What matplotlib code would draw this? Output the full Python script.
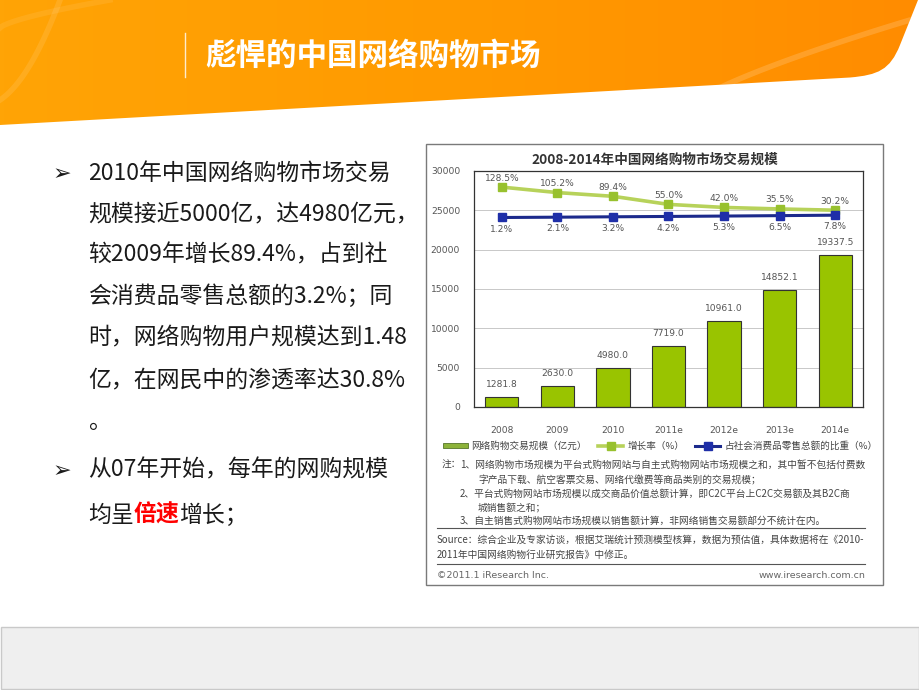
import matplotlib
matplotlib.use("Agg")
import matplotlib.pyplot as plt
import numpy as np
from matplotlib.path import Path
from matplotlib.patches import PathPatch, Rectangle
from matplotlib.colors import LinearSegmentedColormap

# ---------------- data ----------------
years = ['2008', '2009', '2010', '2011e', '2012e', '2013e', '2014e']
scale = [1281.8, 2630.0, 4980.0, 7719.0, 10961.0, 14852.1, 19337.5]
growth = [128.5, 105.2, 89.4, 55.0, 42.0, 35.5, 30.2]
share = [1.2, 2.1, 3.2, 4.2, 5.3, 6.5, 7.8]
yticks = [0, 5000, 10000, 15000, 20000, 25000, 30000]

slide_title = "彪悍的中国网络购物市场"
chart_title = "2008-2014年中国网络购物市场交易规模"
legend_labels = ["网络购物交易规模（亿元）", "增长率（%）", "占社会消费品零售总额的比重（%）"]
body_lines = [
    "2010年中国网络购物市场交易",
    "规模接近5000亿，达4980亿元，",
    "较2009年增长89.4%，占到社",
    "会消费品零售总额的3.2%；同",
    "时，网络购物用户规模达到1.48",
    "亿，在网民中的渗透率达30.8%",
    "。",
    "从07年开始，每年的网购规模",
]
last_line = ["均呈", "倍速", "增长；"]
notes = [
    (442, 465, "注："),
    (460, 465, "1、网络购物市场规模为平台式购物网站与自主式购物网站市场规模之和，其中暂不包括付费数"),
    (478, 480, "字产品下载、航空客票交易、网络代缴费等商品类别的交易规模；"),
    (460, 494, "2、平台式购物网站市场规模以成交商品价值总额计算，即C2C平台上C2C交易额及其B2C商"),
    (478, 508, "城销售额之和；"),
    (460, 521, "3、自主销售式购物网站市场规模以销售额计算，非网络销售交易额部分不统计在内。"),
]
source_lines = [
    "Source：综合企业及专家访谈，根据艾瑞统计预测模型核算，数据为预估值，具体数据将在《2010-",
    "2011年中国网络购物行业研究报告》中修正。",
]

CJK = ['Noto Sans CJK SC', 'DejaVu Sans']
W, H = 920, 690

fig = plt.figure(figsize=(9.2, 6.9), dpi=100)
bg = fig.add_axes([0, 0, 1, 1], zorder=0)
bg.axis('off')

# ---------- header gradient shape ----------
verts = [(0, 0), (918, 0), (900, 45), (890, 70), (878, 75), (850, 77.5), (0, 125), (0, 0)]
codes = [Path.MOVETO, Path.LINETO, Path.LINETO, Path.CURVE4, Path.CURVE4, Path.CURVE4,
         Path.LINETO, Path.CLOSEPOLY]
hpatch = PathPatch(Path(verts, codes), facecolor='none', edgecolor='none')
bg.add_patch(hpatch)
grad = np.linspace(0, 1, 256).reshape(1, -1)
cmap = LinearSegmentedColormap.from_list('o', ['#FFA406', '#FF9A00', '#FF8C00'])
im = bg.imshow(grad, extent=(0, 920, 130, 0), cmap=cmap, aspect='auto', zorder=1)
im.set_clip_path(hpatch)

# decorative faint strokes
t = np.linspace(0, 1, 60)
x1 = 672 + 60 * t ** 0.5 + 178 * t
y1 = 118 - 70 * t ** 0.5 - 28 * t
ln1, = bg.plot(x1, y1, color='white', alpha=0.16, lw=4, zorder=2, solid_capstyle='round')
x3 = 0 + 60 * t
y3 = 100 - 40 * t - 60 * t ** 2
ln3, = bg.plot(x3, y3, color='white', alpha=0.10, lw=4, zorder=2)
x4 = 0 + 110 * t
y4 = 28 - 28 * t ** 0.7
ln4, = bg.plot(x4, y4, color='white', alpha=0.08, lw=4, zorder=2)
for ln in (ln1, ln3, ln4):
    ln.set_clip_path(hpatch)

bg.plot([185, 185], [33, 77], color='white', alpha=0.8, lw=1, zorder=3)
bg.text(205, 56, slide_title, family=CJK, fontsize=22, fontweight='bold',
        color='white', va='center', ha='left', zorder=3)

# ---------- footer ----------
bg.add_patch(Rectangle((1, 627), 918, 62, facecolor='#EFEFEF', edgecolor='#C9C9C9', lw=1, zorder=1))

# ---------- body text ----------
ys = [173, 214, 255, 296, 338, 380, 422, 470]
for s, y in zip(body_lines, ys):
    bg.text(88, y, s, family=CJK, fontsize=16.5, color='#1a1a1a', va='center', ha='left', zorder=3)
for y in (174, 471):
    bg.text(53, y, "➢", family=['DejaVu Sans'], fontsize=16, fontweight='bold',
            color='#1a1a1a', va='center', ha='left', zorder=3)

fig.canvas.draw()
renderer = fig.canvas.get_renderer()
x = 88.0
for i, s in enumerate(last_line):
    kw = dict(family=CJK, fontsize=16.5, va='center', ha='left', zorder=3)
    if i == 1:
        kw.update(color='#FF0000', fontweight='bold')
    else:
        kw.update(color='#1a1a1a')
    tt = bg.text(x, 515, s, **kw)
    bb = tt.get_window_extent(renderer=renderer)
    x += bb.width

# ---------- chart box ----------
bg.add_patch(Rectangle((426, 144), 457, 441, facecolor='white', edgecolor='#7a7a7a', lw=1, zorder=1))
bg.text(655, 160, chart_title, family=CJK, fontsize=9.8, fontweight='bold', color='#333333',
        ha='center', va='center', zorder=3)

L, R, T, B = 474, 863, 171, 407
ax = fig.add_axes([L / W, 1 - B / H, (R - L) / W, (B - T) / H], zorder=2)
ax.set_facecolor('none')
xpos = np.arange(len(years))
bars = ax.bar(xpos, scale, width=0.6, color='#99C400', edgecolor='#333333', lw=0.8, zorder=2)
ax.set_xlim(-0.5, len(years) - 0.5)
ax.set_ylim(0, 30000)
ax.set_yticks(yticks)
ax.set_yticklabels([str(v) for v in yticks], fontsize=6.6, color='#555555', family='DejaVu Sans')
ax.set_xticks(xpos)
ax.set_xticklabels(years, fontsize=6.6, color='#555555', family='DejaVu Sans')
ax.tick_params(axis='both', length=0)
ax.tick_params(axis='y', pad=10)
ax.tick_params(axis='x', pad=14)
ax.yaxis.grid(True, color='#c8c8c8', lw=0.7)
ax.set_axisbelow(True)
for sp in ax.spines.values():
    sp.set_color('#333333')
    sp.set_linewidth(0.9)
for xi, v in zip(xpos, scale):
    ax.annotate(f"{v:.1f}", (xi, v), xytext=(0, 9), textcoords='offset points',
                ha='center', va='center', fontsize=6.6, color='#555555', family='DejaVu Sans')

ax2 = ax.twinx()
ax2.set_ylim(-807, 197)
ax2.axis('off')
gl, = ax2.plot(xpos, growth, color='#B7D25A', lw=2.6, marker='s', markersize=6,
               markerfacecolor='#98C12E', markeredgecolor='#98C12E', zorder=3)
for xi, v in zip(xpos, growth):
    ax2.annotate(f"{v:.1f}%", (xi, v), xytext=(0, 6.5), textcoords='offset points',
                 ha='center', va='center', fontsize=6.6, color='#555555', family='DejaVu Sans')

ax3 = ax.twinx()
ax3.set_ylim(-538, 133.5)
ax3.axis('off')
sl, = ax3.plot(xpos, share, color='#1C2A8C', lw=2.2, marker='s', markersize=6,
               markerfacecolor='#1F2FA8', markeredgecolor='#1F2FA8', zorder=3)
for xi, v in zip(xpos, share):
    ax3.annotate(f"{v:.1f}%", (xi, v), xytext=(0, -8.5), textcoords='offset points',
                 ha='center', va='center', fontsize=6.6, color='#555555', family='DejaVu Sans')

bar_handle = Rectangle((0, 0), 1, 1, facecolor='#8DB33A', edgecolor='#55752A', lw=0.6)
leg = fig.legend([bar_handle, gl, sl], legend_labels, ncol=3, loc='center',
                 bbox_to_anchor=(660 / W, 1 - 446 / H), frameon=False,
                 prop={'family': CJK, 'size': 6.9}, handlelength=2.6, handleheight=0.35,
                 handletextpad=0.4, columnspacing=1.2, labelcolor='#444444')

# ---------- notes ----------
for nx, ny, s in notes:
    bg.text(nx, ny, s, family=CJK, fontsize=7, color='#444444', va='center', ha='left', zorder=3)
bg.plot([437, 865], [528, 528], color='#555555', lw=0.8, zorder=3)
bg.text(437, 540, source_lines[0], family=CJK, fontsize=7, color='#444444', va='center', ha='left', zorder=3)
bg.text(437, 555, source_lines[1], family=CJK, fontsize=7, color='#444444', va='center', ha='left', zorder=3)
bg.plot([437, 865], [564, 564], color='#555555', lw=0.8, zorder=3)
bg.text(437, 576, "©2011.1 iResearch Inc.", family='DejaVu Sans', fontsize=6.8, color='#666666',
        va='center', ha='left', zorder=3)
bg.text(865, 576, "www.iresearch.com.cn", family='DejaVu Sans', fontsize=6.8, color='#666666',
        va='center', ha='right', zorder=3)

bg.set_xlim(0, W)
bg.set_ylim(H, 0)

fig.savefig("out.png", dpi=100)
